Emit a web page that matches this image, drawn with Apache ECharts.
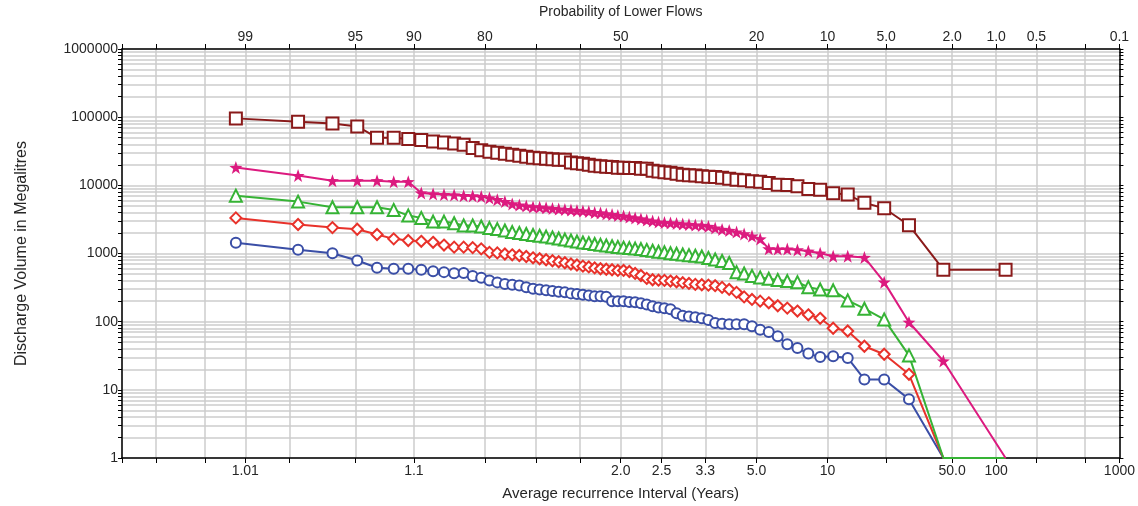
<!DOCTYPE html>
<html>
<head>
<meta charset="utf-8">
<title>Flow frequency</title>
<script src="https://cdn.jsdelivr.net/npm/echarts@6/dist/echarts.min.js"></script>
<style>
  html, body { margin: 0; padding: 0; background: #fff; }
  #chart { width: 1138px; height: 506px; }
</style>
</head>
<body>
<div id="chart"></div>
<script>
// ranked annual volumes (ML), largest first, 70 years of record
var nYears = 70;

var volBrown = [96000, 86000, 81000, 73000, 50000, 50000, 47800, 46200, 44000, 42600,
  41200, 39400, 35200, 32700, 31100, 30100, 29100, 28100, 27200, 26300,
  25400, 25000, 24600, 24200, 23800, 23800, 21700, 21100, 20800, 20100,
  19400, 19100, 18800, 18500, 18100, 18100, 17900, 17900, 17500, 17500,
  16400, 15900, 15600, 15300, 14800, 14300, 14100, 13900, 13600, 13400,
  13200, 12900, 12500, 12100, 11900, 11500, 11300, 10800, 10200, 10100,
  9670, 8850, 8650, 7640, 7310, 5530, 4610, 2600, 580, 580];

var volPink = [18300, 13900, 11700, 11700, 11700, 11300, 11300, 7730, 7480, 7310,
  7230, 7060, 7000, 6830, 6530, 6170, 5770, 5340, 5130, 4960,
  4830, 4760, 4670, 4560, 4480, 4410, 4330, 4260, 4190, 4120,
  3980, 3920, 3790, 3720, 3600, 3540, 3420, 3310, 3200, 3090,
  2990, 2890, 2840, 2800, 2750, 2700, 2660, 2610, 2570, 2490,
  2360, 2250, 2170, 2060, 1940, 1800, 1630, 1170, 1160, 1160,
  1130, 1080, 1010, 914, 914, 874, 380, 98, 26.5, 0];

var volGreen = [7060, 5770, 4760, 4760, 4760, 4360, 3600, 3330, 2940, 2940,
  2780, 2570, 2570, 2490, 2360, 2280, 2170, 2060, 2000, 1930,
  1870, 1820, 1770, 1720, 1660, 1600, 1550, 1500, 1450, 1420,
  1380, 1340, 1310, 1280, 1250, 1220, 1200, 1180, 1160, 1130,
  1100, 1060, 1040, 1010, 990, 968, 945, 926, 904, 860,
  817, 777, 726, 533, 510, 469, 446, 427, 410, 394,
  380, 321, 297, 288, 205, 155, 108, 32, 0, 0];

var volRed = [3330, 2660, 2400, 2270, 1900, 1640, 1550, 1510, 1460, 1330,
  1240, 1240, 1220, 1170, 1040, 1020, 984, 957, 935, 904,
  865, 837, 809, 782, 757, 731, 702, 679, 652, 635,
  614, 597, 587, 578, 564, 564, 545, 510, 476, 431,
  412, 406, 403, 394, 385, 373, 364, 352, 348, 344,
  337, 318, 297, 269, 231, 212, 200, 189, 171, 158,
  143, 126, 112, 80, 73, 43.6, 33.3, 16.9, 0, 0];

var volBlue = [1435, 1133, 1011, 791, 618, 597, 597, 578, 551, 533,
  515, 519, 466, 441, 403, 377, 358, 349, 340, 321,
  305, 297, 288, 281, 275, 269, 260, 254, 249, 243,
  235, 235, 232, 200, 199, 199, 195, 192, 187, 179,
  168, 162, 157, 152, 133, 122, 119, 116, 112, 106,
  95.5, 93, 91.4, 91.4, 91.4, 85.5, 76, 70.5, 61, 46.6,
  41.1, 34, 30.4, 31.1, 29.4, 14.2, 14.2, 7.3, 0, 0];

// axis ticks, in "probability of lower flows" (%)
var gridProbs = [99.9, 99.8, 99.5, 99, 98, 95, 90, 80, 70, 60, 50, 40, 30, 20, 10, 5, 2, 1, 0.5, 0.2, 0.1];
var topLabelProbs = [99, 95, 90, 80, 50, 20, 10, 5, 2, 1, 0.5, 0.1];
var topLabels = ['99', '95', '90', '80', '50', '20', '10', '5.0', '2.0', '1.0', '0.5', '0.1'];
var bottomLabelProbs = [99, 90, 50, 40, 30, 20, 10, 2, 1, 0.1];
var bottomLabels = ['1.01', '1.1', '2.0', '2.5', '3.3', '5.0', '10', '50.0', '100', '1000'];
var yDecades = [1, 10, 100, 1000, 10000, 100000, 1000000];

// inverse standard normal (Acklam)
function invNorm(p) {
  var a = [-3.969683028665376e+01, 2.209460984245205e+02, -2.759285104469687e+02, 1.383577518672690e+02, -3.066479806614716e+01, 2.506628277459239e+00];
  var b = [-5.447609879822406e+01, 1.615858368580409e+02, -1.556989798598866e+02, 6.680131188771972e+01, -1.328068155288572e+01];
  var c = [-7.784894002430293e-03, -3.223964580411365e-01, -2.400758277161838e+00, -2.549732539343734e+00, 4.374664141464968e+00, 2.938163982698783e+00];
  var d = [7.784695709041462e-03, 3.224671290700398e-01, 2.445134137142996e+00, 3.754408661907416e+00];
  var q, r;
  if (p < 0.02425) {
    q = Math.sqrt(-2 * Math.log(p));
    return (((((c[0]*q+c[1])*q+c[2])*q+c[3])*q+c[4])*q+c[5]) / ((((d[0]*q+d[1])*q+d[2])*q+d[3])*q+1);
  }
  if (p > 1 - 0.02425) {
    q = Math.sqrt(-2 * Math.log(1 - p));
    return -(((((c[0]*q+c[1])*q+c[2])*q+c[3])*q+c[4])*q+c[5]) / ((((d[0]*q+d[1])*q+d[2])*q+d[3])*q+1);
  }
  q = p - 0.5; r = q * q;
  return (((((a[0]*r+a[1])*r+a[2])*r+a[3])*r+a[4])*r+a[5])*q / (((((b[0]*r+b[1])*r+b[2])*r+b[3])*r+b[4])*r+1);
}

function probToZ(pct) { return invNorm(1 - pct / 100); }

// Cunnane plotting positions for rank m
var plotX = [];
for (var m = 1; m <= nYears; m++) plotX.push(invNorm((m - 0.4) / (nYears + 0.2)));

var zMin = probToZ(99.9), zMax = probToZ(0.1);
var gridZ = gridProbs.map(probToZ);
var topZ = topLabelProbs.map(probToZ);
var bottomZ = bottomLabelProbs.map(probToZ);

// minor log ticks 1..9 per decade
var yTicks = [];
for (var k = 0; k < 6; k++) {
  for (var j = 1; j < 10; j++) yTicks.push(j * Math.pow(10, k));
}
yTicks.push(1000000);

function labelFor(zs, labels) {
  return function (v) {
    var best = 0;
    for (var i = 1; i < zs.length; i++) {
      if (Math.abs(zs[i] - v) < Math.abs(zs[best] - v)) best = i;
    }
    return labels[best];
  };
}

function toPoints(vals) {
  return vals.map(function (v, i) {
    // zero volumes sit on the axis floor
    return v > 0 ? [plotX[i], v] : { value: [plotX[i], 1], symbol: 'none' };
  });
}

var font = 'Liberation Sans, Arial, sans-serif';
var ink = '#262626';
var gridGrey = '#cdcdcd';
var starPath = 'path://M50,0 L62,34 L98,35 L69,57 L80,92 L50,71 L20,92 L31,57 L2,35 L38,34 Z';

function lineSeries(name, vals, color, symbol, size) {
  return {
    name: name,
    type: 'line',
    data: toPoints(vals),
    symbol: symbol,
    symbolSize: size,
    showAllSymbol: true,
    lineStyle: { color: color, width: 2 },
    itemStyle: { color: color, borderWidth: 2 },
    emphasis: { disabled: true }
  };
}

var chart = echarts.init(document.getElementById('chart'));

var option = {
  animation: false,
  textStyle: { fontFamily: font },
  grid: { left: 122, right: 18, top: 49, bottom: 48 },
  xAxis: [{
    type: 'value',
    position: 'bottom',
    min: zMin,
    max: zMax,
    axisLine: { show: true, onZero: false, lineStyle: { color: '#000', width: 1.5 } },
    axisTick: { show: true, customValues: gridZ, length: 5, lineStyle: { color: '#000' } },
    axisLabel: { customValues: bottomZ, formatter: labelFor(bottomZ, bottomLabels), margin: 6, color: ink, fontSize: 14, fontFamily: font },
    splitLine: { show: true, lineStyle: { color: gridGrey, width: 1.5 } },
    name: 'Average recurrence Interval (Years)',
    nameLocation: 'middle',
    nameGap: 28,
    nameTextStyle: { color: ink, fontSize: 15, fontFamily: font }
  }, {
    type: 'value',
    position: 'top',
    min: zMin,
    max: zMax,
    axisLine: { show: true, onZero: false, lineStyle: { color: '#000', width: 1.5 } },
    axisTick: { show: true, customValues: gridZ, length: 5, lineStyle: { color: '#000' } },
    axisLabel: { customValues: topZ, formatter: labelFor(topZ, topLabels), margin: 5, color: ink, fontSize: 14, fontFamily: font },
    splitLine: { show: false },
    name: 'Probability of Lower Flows',
    nameLocation: 'middle',
    nameGap: 30,
    nameTextStyle: { color: ink, fontSize: 14, fontFamily: font }
  }],
  yAxis: [{
    type: 'log',
    logBase: 10,
    min: 1,
    max: 1000000,
    position: 'left',
    axisLine: { show: true, onZero: false, lineStyle: { color: '#000', width: 1.5 } },
    axisTick: { show: true, customValues: yTicks, length: 4, lineStyle: { color: '#000' } },
    axisLabel: {
      customValues: yDecades,
      formatter: function (v) { return String(Math.round(v)); },
      margin: 4, color: ink, fontSize: 14, fontFamily: font,
      verticalAlign: 'middle', padding: [0, 0, 6, 0]
    },
    splitLine: { show: true, lineStyle: { color: gridGrey, width: 1.5 } },
    name: 'Discharge Volume in Megalitres',
    nameLocation: 'middle',
    nameGap: 92,
    nameTextStyle: { color: ink, fontSize: 16, fontFamily: font }
  }, {
    type: 'log',
    logBase: 10,
    min: 1,
    max: 1000000,
    position: 'right',
    axisLine: { show: true, onZero: false, lineStyle: { color: '#000', width: 1.5 } },
    axisTick: { show: true, customValues: yTicks, length: 4, lineStyle: { color: '#000' } },
    axisLabel: { show: false },
    splitLine: { show: false }
  }],
  series: [
    lineSeries('Blue', volBlue, '#3a4ea6', 'emptyCircle', 10),
    lineSeries('Red', volRed, '#e8322b', 'emptyDiamond', 11),
    lineSeries('Green', volGreen, '#36b335', 'emptyTriangle', 12),
    lineSeries('Pink', volPink, '#dc1a7f', starPath, 13),
    lineSeries('Brown', volBrown, '#8a1a1a', 'emptyRect', 12)
  ]
};

chart.setOption(option);
</script>
</body>
</html>
